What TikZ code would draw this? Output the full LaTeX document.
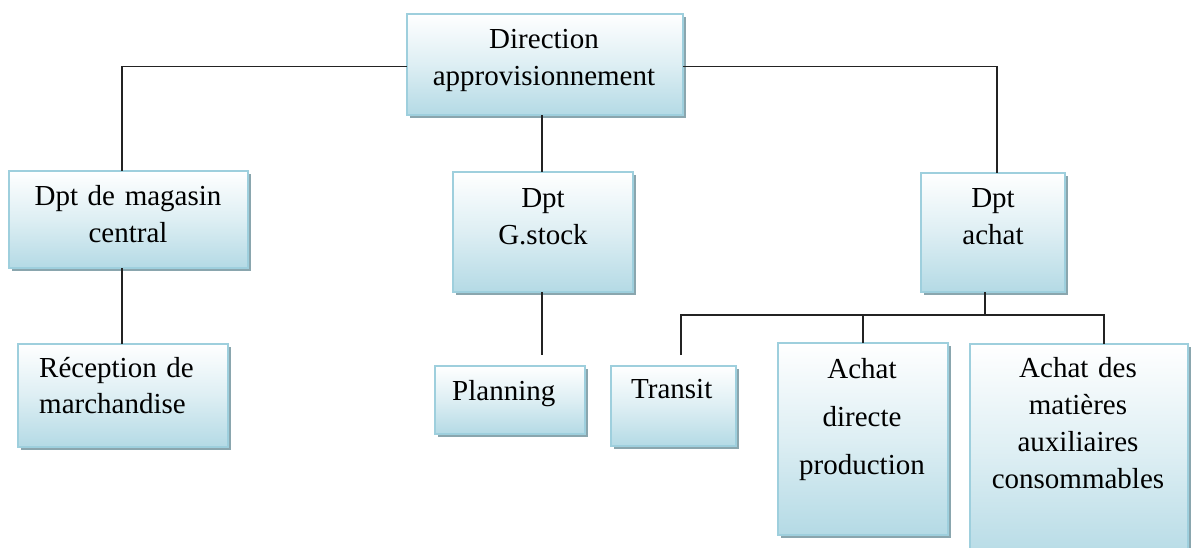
\documentclass[tikz,border=0pt]{standalone}
\usepackage{fontspec}
\setmainfont{Liberation Serif}
\usetikzlibrary{shadows}
\definecolor{bborder}{RGB}{158,207,221}
\definecolor{bfill}{RGB}{180,218,229}
\definecolor{shadowc}{RGB}{138,166,174}
\definecolor{linec}{RGB}{35,35,35}
\tikzset{
  box/.style={draw=bborder, line width=1.2pt, top color=white, bottom color=bfill,
    middle color=bfill!45!white,
    drop shadow={shadow xshift=3pt, shadow yshift=-3pt, fill=shadowc, opacity=1},
    anchor=north west, inner sep=0pt, outer sep=0pt},
  txt/.style={font=\fontsize{29}{37}\selectfont, text width=250pt, align=center,
    inner sep=0pt, anchor=base, text=black},
  ltxt/.style={font=\fontsize{29}{36}\selectfont, text width=200pt, align=left,
    inner sep=0pt, anchor=base west, text=black},
  link/.style={draw=linec, line width=1.6pt}
}
\begin{document}
\begin{tikzpicture}[x=1pt,y=-1pt]
\useasboundingbox (0,0) rectangle (1193,547);
% boxes
\node[box, minimum width=276pt, minimum height=101pt] (top) at (407,14) {};
\node[box, minimum width=239pt, minimum height=97pt] (mag) at (9,171) {};
\node[box, minimum width=210pt, minimum height=103pt] (rec) at (18,344) {};
\node[box, minimum width=180pt, minimum height=120pt] (gst) at (453,172) {};
\node[box, minimum width=150pt, minimum height=68pt] (pla) at (435,366) {};
\node[box, minimum width=144pt, minimum height=119pt] (ach) at (921,173) {};
\node[box, minimum width=125pt, minimum height=80pt] (tra) at (611,366) {};
\node[box, minimum width=170pt, minimum height=192pt] (adp) at (778,343) {};
\node[box, minimum width=218pt, minimum height=220pt] (amx) at (970,344) {};
% texts
\node[txt] (ttop) at (544,48) {Direction\\approvisionnement};
\node[txt] (tmag) at (128,205) {Dpt de magasin\\central};
\node[ltxt] (trec) at (39,377) {Réception de\\marchandise};
\node[txt] (tgst) at (543,207) {Dpt\\G.stock};
\node[ltxt] (tpla) at (452,400) {Planning};
\node[txt] (tach) at (993,207) {Dpt\\achat};
\node[ltxt] (ttra) at (631,398) {Transit};
\node[txt, font=\fontsize{29}{48}\selectfont] (tadp) at (862,378) {Achat\\directe\\production};
\node[txt] (tamx) at (1078,377) {Achat des\\matières\\auxiliaires\\consommables};
% connectors
\coordinate (plend) at (542,355);
\coordinate (trend) at (681,355);
\coordinate (bus) at (985,315);
\draw[link] ([yshift=-2pt]top.west) -| ([xshift=-6.5pt]mag.north);
\draw[link] ([yshift=-2pt]top.east) -| ([xshift=4pt]ach.north);
\draw[link] ([xshift=-3pt]top.south) -- ([xshift=-3pt]top.south |- gst.north);
\draw[link] ([xshift=-6.5pt]mag.south) -- ([xshift=-6.5pt]mag.south |- rec.north);
\draw[link] ([xshift=-1pt]gst.south) -- (plend);
\draw[link] ([xshift=-8pt]ach.south) -- (bus);
\draw[link] (trend) |- (bus);
\draw[link] (adp.north) |- (bus);
\draw[link] (bus) -| ([xshift=25pt]amx.north);
\end{tikzpicture}
\end{document}
